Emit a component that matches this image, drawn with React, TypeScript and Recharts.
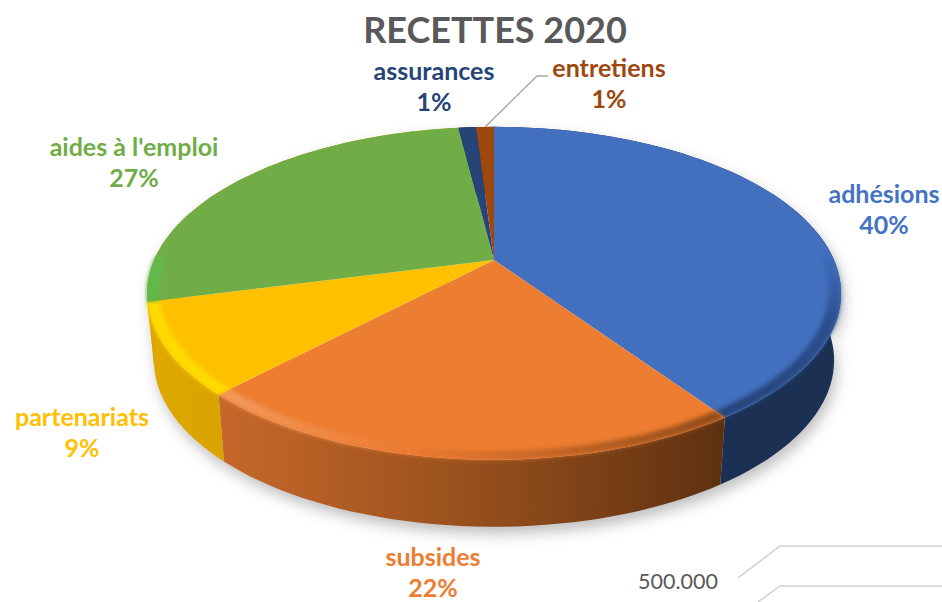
import { Pie, PieChart } from 'recharts'

const categories = ['adhésions', 'subsides', 'partenariats', "aides à l'emploi", 'assurances', 'entretiens']
const shares = [40.4, 21.8, 8.8, 27, 1, 1]

const topColors = ['#4270BF', '#ED7D31', '#FFC000', '#70AD47', '#264478', '#9E480E']
const labelColors = ['#4472C4', '#ED7D31', '#FFC000', '#70AD47', '#264478', '#9E480E']
const rimFills = ['url(#rimBlue)', 'url(#rimOrange)', '#FFDC00', '#62B94A', '#264478', '#9E480E']
const wallFills = ['#1B3052', 'url(#wallOrange)', 'url(#wallYellow)', '#DCA600', '#172A4C', '#5F2C08']

const labelSpots = [
  { x: 884, y: 203 },
  { x: 433, y: 566 },
  { x: 82, y: 426 },
  { x: 134, y: 156 },
  { x: 434, y: 80 },
  { x: 609, y: 77 },
]

const pieData = categories.map((name, i) => ({ name, value: shares[i], index: i }))

const FLATTEN = 0.47
const TILT = 0.2
const DEPTH = 67
const BOTTOM_SHRINK = 0.98

// tilted-disc projection of a pie angle
function project(cx: number, cy: number, radius: number, deg: number, r = 1, drop = 0) {
  const rad = (deg * Math.PI) / 180
  const X = Math.cos(rad) * r
  const Y = Math.sin(rad) * r
  const w = 1 + TILT * Y
  const shrink = drop ? BOTTOM_SHRINK : 1
  return {
    x: cx + ((radius * X) / w) * shrink,
    y: cy - (radius * FLATTEN * Y) / w + drop,
    Y,
  }
}

function arc(cx: number, cy: number, radius: number, from: number, to: number, r = 1, drop = 0) {
  const steps = Math.max(2, Math.ceil(Math.abs(from - to) / 2))
  const pts = []
  for (let i = 0; i <= steps; i++) {
    pts.push(project(cx, cy, radius, from + ((to - from) * i) / steps, r, drop))
  }
  return pts
}

const toPath = (pts: { x: number; y: number }[]) =>
  'M' + pts.map((p) => `${p.x.toFixed(1)},${p.y.toFixed(1)}`).join('L') + 'Z'

function WallSlice(props: any) {
  const { cx, cy, outerRadius, startAngle, endAngle, index } = props
  const top = arc(cx, cy, outerRadius, startAngle, endAngle)
  const bottom = arc(cx, cy, outerRadius, endAngle, startAngle, 1, DEPTH)
  return <path d={toPath([...top, ...bottom])} fill={wallFills[index]} />
}

function TopSlice(props: any) {
  const { cx, cy, outerRadius, startAngle, endAngle, index } = props
  const face = [{ x: cx, y: cy }, ...arc(cx, cy, outerRadius, startAngle, endAngle)]
  // bevel only on the side facing the viewer
  const outer = arc(cx, cy, outerRadius, startAngle, endAngle, 1).filter((p) => p.Y < 0.05)
  const inner = arc(cx, cy, outerRadius, endAngle, startAngle, 0.965).filter((p) => p.Y < 0.05)
  return (
    <g>
      <path d={toPath(face)} fill={topColors[index]} />
      {outer.length > 1 && (
        <path d={toPath([...outer, ...inner])} fill={rimFills[index]} filter="url(#soft)" />
      )}
    </g>
  )
}

function SliceLabel(props: any) {
  const { index, name, percent } = props
  const spot = labelSpots[index]
  return (
    <text
      x={spot.x}
      y={spot.y}
      textAnchor="middle"
      fontFamily="Lato"
      fontWeight={700}
      fontSize={25}
      fill={labelColors[index]}
    >
      <tspan x={spot.x}>{name}</tspan>
      <tspan x={spot.x} dy={31}>{`${Math.round(percent * 100)}%`}</tspan>
    </text>
  )
}

export default function App() {
  return (
    <div style={{ position: 'absolute', left: 0, top: 0, width: 942, height: 602, overflow: 'hidden', background: '#fff' }}>
      <style>{`.pie-wall { filter: drop-shadow(3px 7px 7px rgba(0,0,0,0.25)); }`}</style>
      <PieChart width={942} height={602} margin={{ top: 0, right: 0, bottom: 0, left: 0 }}>
        <defs>
          <filter id="soft" x="-10%" y="-10%" width="120%" height="120%">
            <feGaussianBlur stdDeviation="2" />
          </filter>
          <linearGradient id="wallOrange" x1="0" y1="0" x2="1" y2="0">
            <stop offset="0" stopColor="#C7682A" />
            <stop offset="0.5" stopColor="#97501D" />
            <stop offset="1" stopColor="#5E3010" />
          </linearGradient>
          <linearGradient id="wallYellow" x1="0" y1="0" x2="1" y2="0">
            <stop offset="0" stopColor="#E0A800" />
            <stop offset="1" stopColor="#D9A300" />
          </linearGradient>
          <linearGradient id="rimOrange" x1="0" y1="0" x2="1" y2="0">
            <stop offset="0" stopColor="#F49A5C" />
            <stop offset="0.4" stopColor="#E9792F" />
            <stop offset="1" stopColor="#8F4A18" />
          </linearGradient>
          <linearGradient id="rimBlue" x1="0" y1="0" x2="0" y2="1">
            <stop offset="0" stopColor="#2F5597" stopOpacity="0.1" />
            <stop offset="0.4" stopColor="#2B4F8F" />
            <stop offset="1" stopColor="#264478" />
          </linearGradient>
        </defs>
        <Pie
          data={pieData}
          dataKey="value"
          cx={494}
          cy={260}
          outerRadius={340}
          startAngle={90}
          endAngle={-270}
          stroke="none"
          className="pie-wall"
          shape={WallSlice}
          isAnimationActive={false}
        />
        <Pie
          data={pieData}
          dataKey="value"
          cx={494}
          cy={260}
          outerRadius={340}
          startAngle={90}
          endAngle={-270}
          stroke="none"
          shape={TopSlice}
          label={SliceLabel}
          labelLine={false}
          isAnimationActive={false}
        />
        <text x={495} y={43} textAnchor="middle" fontFamily="Lato" fontWeight={700} fontSize={36} fill="#595959">
          RECETTES 2020
        </text>
        <path d="M485,127 L537,76 L548,76" fill="none" stroke="#A6A6A6" strokeWidth={1.3} />
        <text x={638} y={589} fontFamily="Lato" fontSize={21.5} fill="#595959">
          500.000
        </text>
        <path d="M738,578 L780,546 L942,546" fill="none" stroke="#D0D0D0" strokeWidth={1.5} />
        <path d="M758,602 L780,586 L942,586" fill="none" stroke="#D0D0D0" strokeWidth={1.5} />
      </PieChart>
    </div>
  )
}
